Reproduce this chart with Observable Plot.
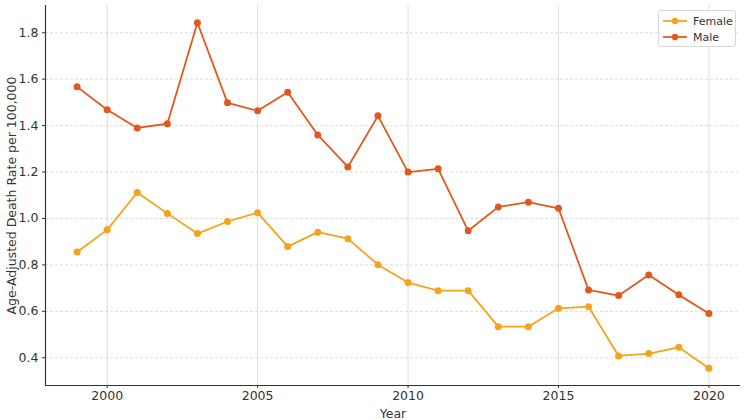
<!DOCTYPE html>
<html>
<head>
<meta charset="utf-8">
<script src="https://cdn.jsdelivr.net/npm/d3@7"></script>
<script src="https://cdn.jsdelivr.net/npm/@observablehq/plot@0.6"></script>
<style>
  html, body { margin: 0; padding: 0; background: #fff; }
  #wrap { position: relative; width: 745px; height: 420px; font-family: "DejaVu Sans", sans-serif; }
  #legend { position: absolute; left: 658px; top: 10px; width: 78px; height: 37px; border: 1px solid #d8d8d8; border-radius: 3px; background: rgba(255,255,255,0.9); box-sizing: border-box; font-size: 11px; color: #333; }
  .row { position: absolute; left: 4px; height: 14px; display: flex; align-items: center; }
  .row span { margin-left: 6px; }
</style>
</head>
<body>
<div id="wrap">
  <div id="chart"></div>
  <div id="legend"></div>
</div>
<script>
const years = [1999,2000,2001,2002,2003,2004,2005,2006,2007,2008,2009,2010,2011,2012,2013,2014,2015,2016,2017,2018,2019,2020];
const female = [0.856,0.951,1.112,1.022,0.935,0.987,1.025,0.879,0.941,0.913,0.801,0.724,0.689,0.689,0.534,0.534,0.613,0.620,0.408,0.418,0.445,0.355];
const male = [1.567,1.468,1.390,1.408,1.843,1.498,1.464,1.544,1.360,1.222,1.442,1.200,1.214,0.947,1.050,1.070,1.044,0.692,0.668,0.757,0.671,0.591];
const seriesNames = ["Female", "Male"];
const seriesColors = ["#f5a31a", "#e2581c"];
const xTicks = [2000, 2005, 2010, 2015, 2020];
const yTicks = [0.4, 0.6, 0.8, 1.0, 1.2, 1.4, 1.6, 1.8];

const data = [];
years.forEach((y, i) => {
  data.push({year: y, value: female[i], sex: seriesNames[0]});
  data.push({year: y, value: male[i], sex: seriesNames[1]});
});

const allVals = female.concat(male);
const yMin = d3.min(allVals), yMax = d3.max(allVals);
const yPad = (yMax - yMin) * 0.05;
const xMin = d3.min(years), xMax = d3.max(years);
const xPad = (xMax - xMin) * 0.05;
const xDomain = [xMin - xPad, xMax + xPad];
const yDomain = [yMin - yPad, yMax + yPad];

const chart = Plot.plot({
  width: 745,
  height: 420,
  marginLeft: 45,
  marginRight: 5,
  marginTop: 5,
  marginBottom: 35,
  style: { fontFamily: "DejaVu Sans, sans-serif", fontSize: "12.5px", color: "#333", background: "transparent" },
  x: { domain: xDomain },
  y: { domain: yDomain },
  color: { domain: seriesNames, range: seriesColors },
  marks: [
    Plot.gridY(yTicks, { stroke: "#cfcfcf", strokeOpacity: 0.7, strokeDasharray: "3,2" }),
    Plot.gridX(xTicks, { stroke: "#cfcfcf", strokeOpacity: 0.7 }),
    Plot.axisY(yTicks, { tickFormat: d3.format(".1f"), tickSize: 3, tickPadding: 4, label: "Age-Adjusted Death Rate per 100,000", labelAnchor: "center", labelArrow: "none", labelOffset: 38, fontSize: 12.5 }),
    Plot.axisX(xTicks, { tickFormat: d => String(d), tickSize: 3, tickPadding: 3, label: "Year", labelAnchor: "center", labelArrow: "none", labelOffset: 32, fontSize: 12.5 }),
    Plot.ruleX([xDomain[0]], { stroke: "#333", strokeWidth: 1.2 }),
    Plot.ruleY([yDomain[0]], { stroke: "#333", strokeWidth: 1.2 }),
    Plot.line(data, { x: "year", y: "value", stroke: "sex", strokeWidth: 1.8 }),
    Plot.dot(data, { x: "year", y: "value", fill: "sex", r: 3.5 })
  ]
});
document.getElementById("chart").appendChild(chart);

const legend = d3.select("#legend");
seriesNames.forEach((name, i) => {
  const row = legend.append("div").attr("class", "row").style("top", (3 + i * 16) + "px");
  const svg = row.append("svg").attr("width", 24).attr("height", 10);
  svg.append("line").attr("x1", 0).attr("x2", 24).attr("y1", 5).attr("y2", 5).attr("stroke", seriesColors[i]).attr("stroke-width", 1.8);
  svg.append("circle").attr("cx", 12).attr("cy", 5).attr("r", 3.2).attr("fill", seriesColors[i]);
  row.append("span").text(name);
});
</script>
</body>
</html>
